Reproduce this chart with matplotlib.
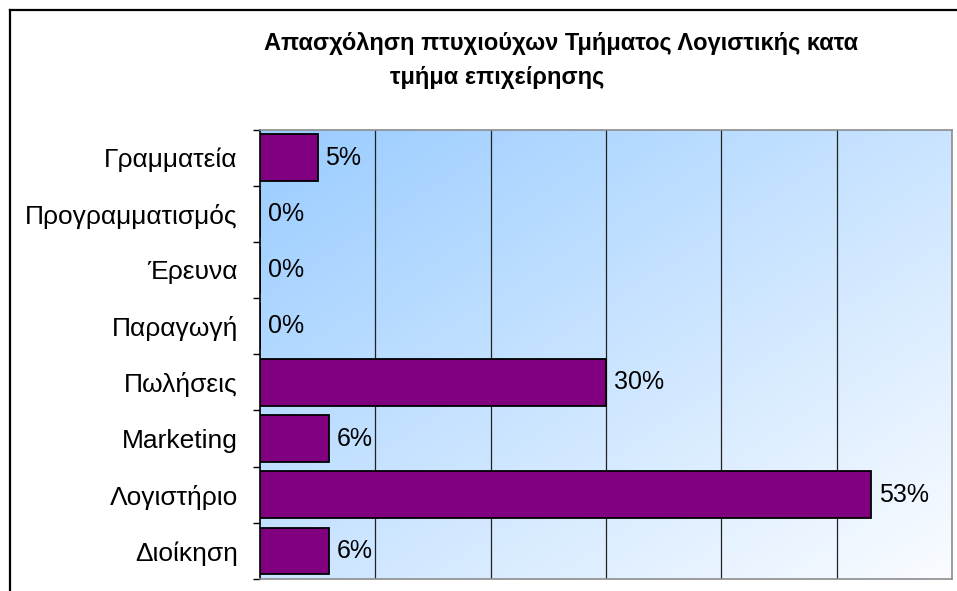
import numpy as np
import matplotlib
matplotlib.use("Agg")
import matplotlib.pyplot as plt
from matplotlib.lines import Line2D

# data (percent of graduates per department)
departments = ["Γραμματεία", "Προγραμματισμός", "Έρευνα", "Παραγωγή",
               "Πωλήσεις", "Marketing", "Λογιστήριο", "Διοίκηση"]
shares = [5, 0, 0, 0, 30, 6, 53, 6]
value_labels = ["5%", "0%", "0%", "0%", "30%", "6%", "53%", "6%"]
x_ticks = [0, 10, 20, 30, 40, 50, 60]

plt.rcParams['font.family'] = ['Liberation Sans', 'DejaVu Sans']

W, H = 957, 591
fig = plt.figure(figsize=(W / 100, H / 100), dpi=100)
fig.patch.set_facecolor("white")

# outer chart frame (only top and left are visible in the crop)
fig.add_artist(Line2D([9.5 / W, 9.5 / W], [0, 1 - 9.5 / H], transform=fig.transFigure,
                      color="black", lw=1.6))
fig.add_artist(Line2D([9.5 / W, 1], [1 - 9.5 / H, 1 - 9.5 / H], transform=fig.transFigure,
                      color="black", lw=1.6))

ax = fig.add_axes([260 / W, 12 / H, 692 / W, 449.5 / H])

# diagonal blue -> white gradient background
nx, ny = 300, 200
u = np.linspace(0, 1, nx)[None, :]
v = np.linspace(0, 1, ny)[:, None]
t = np.clip((u + v) / 2, 0, 1)
c0 = np.array([153, 204, 255]) / 255
c1 = np.array([250, 252, 255]) / 255
grad = c0[None, None, :] * (1 - t[..., None]) + c1[None, None, :] * t[..., None]
ax.imshow(grad, extent=[0, 60, 7.5, -0.5], aspect="auto", zorder=0,
          interpolation="bilinear")

ax.set_xlim(0, 60)
ax.set_ylim(7.5, -0.5)

# vertical gridlines
for xv in x_ticks[1:-1]:
    ax.axvline(xv, color="#222222", lw=0.9, zorder=1)

y = np.arange(len(departments))
ax.barh(y, shares, height=0.83, color="#800080", edgecolor="black", lw=1.3, zorder=2)

for yi, val, lab in zip(y, shares, value_labels):
    ax.annotate(lab, (val, yi), xytext=(5.5, 0), textcoords="offset points",
                ha="left", va="center", fontsize=18, color="black", zorder=3)

ax.set_yticks(y)
ax.set_yticklabels(departments, fontsize=19)
ax.set_yticks(np.arange(-0.5, len(departments) + 0.5, 1), minor=True)
ax.tick_params(axis="y", which="major", length=0, pad=16)
ax.tick_params(axis="y", which="minor", length=5, width=1, direction="out", color="black")
ax.set_xticks([])

for side in ["top", "right", "bottom"]:
    ax.spines[side].set_color("#8c8c8c")
    ax.spines[side].set_linewidth(1.2)
ax.spines["left"].set_color("black")
ax.spines["left"].set_linewidth(1.2)

# two-line bold title
fig.text(264 / W, 1 - 50 / H, "Απασχόληση πτυχιούχων Τμήματος Λογιστικής κατα",
         fontsize=17, fontweight="bold", ha="left", va="baseline")
fig.text(390 / W, 1 - 84 / H, "τμήμα επιχείρησης",
         fontsize=17, fontweight="bold", ha="left", va="baseline")

fig.savefig("out.png", dpi=100)
